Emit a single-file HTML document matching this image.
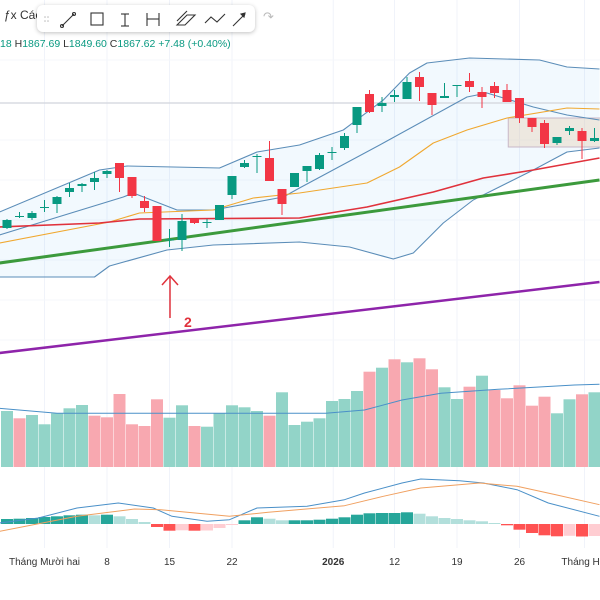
<!DOCTYPE html>
<html><head><meta charset="utf-8"><style>
body{margin:0;background:#fff;width:600px;height:600px;overflow:hidden;font-family:"Liberation Sans","Noto Sans CJK SC",sans-serif}
svg{position:absolute;left:0;top:0}
.tb{position:absolute;left:37px;top:5px;width:218px;height:27px;background:#fff;border-radius:6px;box-shadow:0 1px 4px rgba(0,0,0,.25)}
</style></head><body>
<svg id="chart" width="600" height="600" viewBox="0 0 600 600"></svg>
<div class="tb">
<svg width="218" height="27" viewBox="0 0 218 27">
<g stroke="#333" fill="none" stroke-width="1.1">
<circle cx="8" cy="12" r="0.8" fill="#bbb" stroke="none"/><circle cx="11" cy="12" r="0.8" fill="#bbb" stroke="none"/><circle cx="8" cy="16" r="0.8" fill="#bbb" stroke="none"/><circle cx="11" cy="16" r="0.8" fill="#bbb" stroke="none"/>
<g><line x1="25" y1="21" x2="37" y2="9"/><circle cx="25" cy="21" r="1.5"/><circle cx="37" cy="9" r="1.5"/></g>
<g><rect x="54" y="8" width="12" height="12"/></g>
<g><line x1="84" y1="9" x2="92" y2="9"/><line x1="84" y1="21" x2="92" y2="21"/><line x1="88" y1="9" x2="88" y2="21"/></g>
<g><line x1="110" y1="8" x2="110" y2="21"/><line x1="122" y1="8" x2="122" y2="21"/><line x1="110" y1="14" x2="122" y2="14"/></g>
<g><path d="M140 20 L150 10 L158 10 L148 20 Z M140 16 L150 6"/></g>
<g><path d="M168 18 L174 12 L180 17 L188 9"/></g>
<g><line x1="196" y1="21" x2="208" y2="9"/><path d="M208 8 L204 9 L207 12 Z" fill="#333"/></g>
</g></svg></div>
<script>
const W=600;
const candleOpen=[1806,1811.5,1811,1816,1818,1824,1827,1829,1833,1838.5,1831.5,1819.5,1817,1800,1800,1810.5,1808.5,1810,1822.5,1836.5,1841.5,1841,1825.5,1826.5,1834.5,1835.5,1843.5,1846,1857.5,1873,1867,1871.5,1870.5,1881.5,1873.5,1871,1877,1879.5,1874,1877,1875,1871,1861,1858.5,1848.5,1854.5,1854.5,1849.5];
const candleHigh=[1810.5,1814,1814.5,1820,1822,1828.5,1828.5,1834,1835,1838.5,1831.5,1822,1817,1805.5,1813,1810.5,1810.5,1817.5,1832,1840,1843,1849.5,1825.5,1833.5,1837,1843.5,1846.5,1853.5,1866.5,1875,1871.5,1875,1881.5,1884,1873.5,1878.5,1877.5,1883.5,1876.5,1879,1878,1871,1861,1860,1851.5,1857,1856,1856];
const candleLow=[1805.5,1811,1810,1814,1813.5,1821.5,1824,1825,1831,1824,1821,1814,1799.5,1796.5,1794.5,1808,1806,1810,1820.5,1836,1833.5,1829.5,1812.5,1826.5,1829,1835,1840,1845,1853.5,1863.5,1864,1869,1870.5,1869.5,1862.5,1871,1871.5,1874,1866,1871,1869,1858.5,1854,1846,1847.5,1852.5,1840.5,1849];
const candleClose=[1810,1812,1813.5,1816.5,1821.5,1826,1828,1831,1834.5,1831,1822,1816,1799.5,1800.3,1809.5,1808.5,1809,1817.5,1832,1838.5,1842,1829.5,1818,1833.5,1837,1842.5,1844,1852,1866.5,1864,1868.5,1872.5,1879,1876.5,1867.5,1872,1877.5,1876.5,1871.5,1873.5,1869,1861,1856.5,1848,1851.5,1856,1849.5,1851];
const volume=[56,48.7,52,42.7,53.7,58.7,62,51.3,49.7,73,42.7,41,67.7,49.3,61.7,41,40.3,53.7,61.7,59.7,56,51.3,74.7,42,45.3,48.7,66,68,76,95.3,99.3,107.7,104.7,108.7,97.7,79.7,68,80.3,91.3,77,68.7,81.7,61.3,70.3,53.7,67.7,72.7,74.7];
const volumeUp=[1,0,1,1,1,1,1,0,0,0,0,0,0,1,1,0,1,1,1,1,1,0,1,1,1,1,1,1,1,0,1,0,1,0,0,1,1,0,1,0,0,0,0,0,1,1,0,1];
const volMaIdx=[-0.6,4,25.5,28.6,31.6,34.7,39.3,45.4,47.4];
const volMaVal=[58.7,53.7,53.7,57,67,73.7,77.7,82,82.7];
const macdHist=[5,5.3,6,7,7.7,8.7,9.3,8.7,9.3,7.7,5,2,-3,-6.7,-6.3,-6.7,-6.5,-4,-0.7,3.7,6.7,5.3,3.7,3.7,3.7,4.3,5.3,6.7,9.3,10.7,11,11,11.7,10.3,7.7,6,5,3.7,2.7,1,-1.3,-5.7,-9,-11.3,-12.3,-11.8,-12.5,-12];
const macdIdx=[-0.6,2.5,5.6,8.9,11.7,13.2,16,17.8,20,24,27,28.6,31.6,33.1,36.2,38.1,40.8,43.3,47.4];
const macdVal=[1,6,16,21,16,7.7,2.7,4.3,16,17.7,24.3,31,41,45,43.3,41,34.3,21,7.7];
const sigIdx=[-0.6,5.6,10.2,12.3,17.8,20.9,27,30.1,33.1,37.8,40.8,43.9,47.4];
const sigVal=[-7.3,7.7,15,14.3,7.7,11.7,18.3,27.7,36,41,37.7,29.3,19.3];
const bbUpIdx=[-0.6,7.4,9.6,17,20,23.4,26.9,30.1,32.2,33.6,37,42.6,44.8,47.4];
const bbUpVal=[1814,1835,1837,1836,1844,1847.5,1855,1870,1883.5,1888.5,1891,1890,1886.5,1885.5];
const bbMidIdx=[-0.6,9.3,10.1,13.6,16.5,22.1,23.4,30.1,36.8,38.4,42.1,44.8,47.4];
const bbMidVal=[1802.5,1821.5,1823.5,1815,1815,1821.5,1826,1848.5,1871.5,1873.5,1866.5,1862.5,1860];
const bbLowIdx=[-0.6,7,8.2,12.8,16.5,23.4,27.4,30.9,32.5,34.9,37.3,42.1,44.8,47.4];
const bbLowVal=[1781.5,1781.5,1787,1795,1797.5,1799,1796.5,1790.5,1793.5,1808.5,1820,1835,1844,1846];
const emaIdx=[-0.6,8.2,10.6,16.5,19.7,23.4,28.8,31.4,34.1,36.8,40,44.8,47.4];
const emaVal=[1798.5,1809,1813.5,1815,1821,1823.5,1828.5,1836.5,1848.5,1855,1861,1866,1865.5];
const maIdx=[-0.6,7.4,10.6,23.4,28.8,34.1,38.1,42.1,47.4];
const maVal=[1806.5,1808.5,1810.5,1811,1816.5,1824,1831,1835,1841];
const trendGreen=[[-0.6,1788.5],[47.4,1830]];
const trendPurple=[[-0.6,1743.5],[47.4,1779]];
const hLine=1868.5;
const zoneBox={i0:40.1,i1:48.5,p0:1861,p1:1846.5};
const xLabels=["Tháng Mười hai","8","15","22","2026","12","19","26","Tháng Hai"];
const xLabelIdx=[3,8,13,18,26.1,31,36,41,46.2];

const NS="http://www.w3.org/2000/svg";
const svg=document.getElementById('chart');
const X=i=>7+12.5*i;
const YP=p=>(1920-p)*2;
const YV=v=>467-v;
const YM=v=>524-v;
function el(t,a,parent){const e=document.createElementNS(NS,t);for(const k in a)e.setAttribute(k,a[k]);(parent||svg).appendChild(e);return e;}
function pts(ix,vals,fy){return ix.map((v,k)=>X(v).toFixed(1)+','+fy(vals[k]).toFixed(1)).join(' ');}

// grid
xLabelIdx.forEach(i=>{const g=el('line',{x1:X(i),x2:X(i),y1:0,y2:548,stroke:'#f0f3fa','stroke-width':1});

});
[60,140,180,220,260,300,340].forEach(y=>{const g=el('line',{x1:0,x2:W,y1:y,y2:y,stroke:'#f5f7fb'});

});

// bb fill
let fill=el('polygon',{points:pts(bbUpIdx,bbUpVal,YP)+' '+pts(bbLowIdx.slice().reverse(),bbLowVal.slice().reverse(),YP),fill:'rgba(33,150,243,0.06)'});



let hl=el('line',{x1:0,x2:W,y1:YP(hLine),y2:YP(hLine),stroke:'#d1d4dc','stroke-width':1.2});


let zb=el('rect',{x:X(zoneBox.i0),y:YP(zoneBox.p0),width:X(zoneBox.i1)-X(zoneBox.i0),height:YP(zoneBox.p1)-YP(zoneBox.p0),fill:'rgba(230,200,170,0.35)',stroke:'#c8b8c8','stroke-width':1});



function line(ix,vals,fy,col,w,name){const e=el('polyline',{points:pts(ix,vals,fy),fill:'none',stroke:col,'stroke-width':w,'stroke-linejoin':'round'});

return e;}
line(bbUpIdx,bbUpVal,YP,'#5b8db8',1.1,'bollinger-upper');
line(bbMidIdx,bbMidVal,YP,'#5b8db8',1.1,'bollinger-basis');
line(bbLowIdx,bbLowVal,YP,'#5b8db8',1.1,'bollinger-lower');
line(emaIdx,emaVal,YP,'#f0a830',1.1,'ema-line');
line(maIdx,maVal,YP,'#e0323c',1.6,'ma-line');
line(trendGreen.map(d=>d[0]),trendGreen.map(d=>d[1]),YP,'#3c9a3c',3,'green-trendline');
line(trendPurple.map(d=>d[0]),trendPurple.map(d=>d[1]),YP,'#8e24aa',2.5,'purple-trendline');

// candles
candleOpen.forEach((o,i)=>{const c=candleClose[i];const up=c>=o;const col=up?'#089981':'#f23645';const x=X(i);
const g=el('g',{});


el('line',{x1:x,x2:x,y1:YP(candleHigh[i]),y2:YP(candleLow[i]),stroke:col,'stroke-width':1},g);
const t=YP(Math.max(o,c)),b=YP(Math.min(o,c));
el('rect',{x:x-4.5,y:t,width:9,height:Math.max(1,b-t),fill:col},g);});

// arrow annotation
const ag=el('g',{stroke:'#e0323c','stroke-width':1.5,fill:'none'});


el('line',{x1:170,x2:170,y1:318,y2:276},ag);el('polyline',{points:'162,285 170,276 178,285'},ag);
const at=el('text',{x:184,y:327,fill:'#e0323c','font-size':14,'font-weight':'bold'});at.textContent='2';



// volume
volume.forEach((v,i)=>{const r=el('rect',{x:X(i)-6,y:YV(v),width:12,height:v,fill:volumeUp[i]?'#92d4c8':'#f8a8b0'});

});
line(volMaIdx,volMaVal,YV,'#4a90c8',1,'volume-ma');

// macd
macdHist.forEach((v,i)=>{const p=i?macdHist[i-1]:v;let col;if(v>=0)col=v>=p?'#26a69a':'#b2dfdb';else col=v<=p?'#ff5252':'#ffcdd2';
const r=el('rect',{x:X(i)-6,y:v>=0?YM(v):YM(0),width:12,height:Math.max(1,Math.abs(v)),fill:col});

});
line(macdIdx,macdVal,YM,'#4a90c8',1,'macd-line');
line(sigIdx,sigVal,YM,'#f0a060',1,'signal-line');

// x labels
xLabels.forEach((s,k)=>{const t=el('text',{x:X(xLabelIdx[k]),y:565,'text-anchor':'middle','font-size':10,fill:'#333','font-weight':s==='2026'?'bold':'normal'});t.textContent=s;

});

// header
const fx=el('text',{x:4,y:19,'font-size':12,fill:'#333'});fx.textContent='ƒx Các';


const rd=el('text',{x:263,y:21,'font-size':13,fill:'#bbb'});rd.textContent='↷';


const hd=el('text',{x:0,y:47,'font-size':10.5,fill:'#089981'});


[['18 ','#089981'],['H','#333'],['1867.69 ','#089981'],['L','#333'],['1849.60 ','#089981'],['C','#333'],['1867.62 ','#089981'],['+7.48 (+0.40%)','#089981']].forEach(s=>{const t=el('tspan',{fill:s[1]},hd);t.textContent=s[0];});
</script>
</body></html>
